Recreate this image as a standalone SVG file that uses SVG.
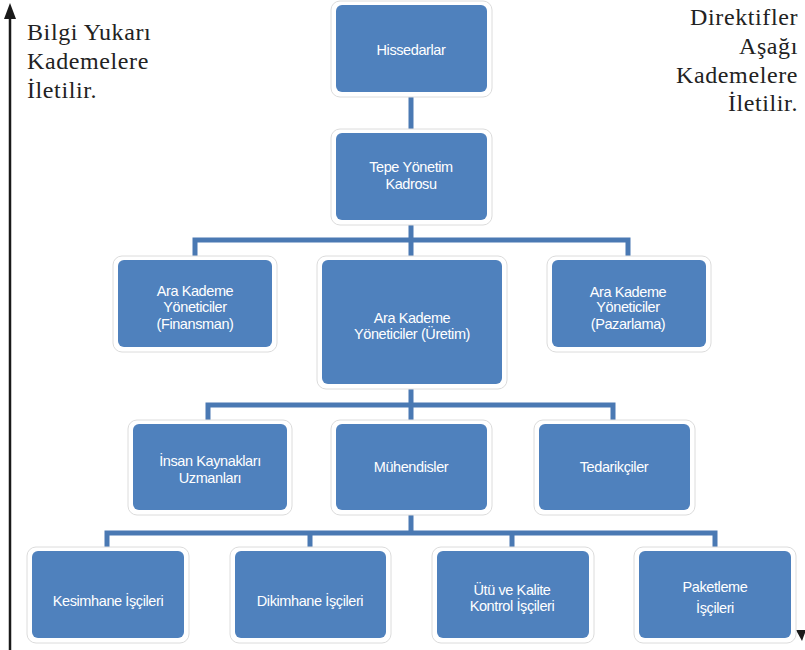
<svg xmlns="http://www.w3.org/2000/svg" width="805" height="650" viewBox="0 0 805 650">
  <style>
    .halo { fill: #ffffff; stroke: #dcdcdc; stroke-width: 1; }
    .box { fill: #4f81bd; }
    .lbl { font-family: "Liberation Sans", Arial, sans-serif; font-size: 14.5px; fill: #ffffff; text-anchor: middle; letter-spacing: -0.4px; }
    .note { font-family: "Liberation Serif", "Times New Roman", serif; font-size: 24px; fill: #222222; letter-spacing: 0.6px; }
    .conn { stroke: #4a79b3; stroke-width: 5; fill: none; }
  </style>

  <rect width="805" height="650" fill="#ffffff"/>

  <!-- side annotations -->
  <g id="info-up">
    <line x1="10" y1="650" x2="10" y2="17" stroke="#1a1a1a" stroke-width="2.5"/>
    <path d="M4,19 L10,3 L16,19 Z" fill="#1a1a1a"/>
    <text class="note" x="27" y="40">Bilgi Yukarı</text>
    <text class="note" x="27" y="69">Kademelere</text>
    <text class="note" x="27" y="98">İletilir.</text>
  </g>
  <g id="directives-down">
    <text class="note" x="798" y="25" text-anchor="end">Direktifler</text>
    <text class="note" x="798" y="54" text-anchor="end">Aşağı</text>
    <text class="note" x="798" y="83" text-anchor="end">Kademelere</text>
    <text class="note" x="798" y="111" text-anchor="end">İletilir.</text>
    <path d="M796,630 L806,630 L802,641 Z" fill="#1a1a1a"/>
  </g>

  <!-- connectors -->
  <g id="connectors">
    <path class="conn" d="M411,92 V133"/>
    <path class="conn" d="M411,220 V260 M195,260 V240 H628 V260"/>
    <path class="conn" d="M411,384 V424 M208,424 V405 H613 V424"/>
    <path class="conn" d="M411,510 V533 M107,551 V533 H715 V551 M310,533 V551 M512,533 V551"/>
  </g>

  <!-- level 1 -->
  <g id="hissedarlar">
    <rect class="halo" x="331" y="1" width="161" height="96" rx="9"/>
    <rect class="box" x="336" y="5" width="151" height="87" rx="6"/>
    <text class="lbl" x="411" y="55">Hissedarlar</text>
  </g>

  <!-- level 2 -->
  <g id="tepe-yonetim">
    <rect class="halo" x="331" y="129" width="161" height="96" rx="9"/>
    <rect class="box" x="336" y="133" width="151" height="87" rx="6"/>
    <text class="lbl" x="411" y="172">Tepe Yönetim</text>
    <text class="lbl" x="411" y="189">Kadrosu</text>
  </g>

  <!-- level 3 -->
  <g id="ara-kademe-finansman">
    <rect class="halo" x="113" y="256" width="164" height="96" rx="9"/>
    <rect class="box" x="118" y="260" width="154" height="87" rx="6"/>
    <text class="lbl" x="195" y="296">Ara Kademe</text>
    <text class="lbl" x="195" y="312">Yöneticiler</text>
    <text class="lbl" x="195" y="329">(Finansman)</text>
  </g>
  <g id="ara-kademe-uretim">
    <rect class="halo" x="317" y="256" width="190" height="133" rx="9"/>
    <rect class="box" x="322" y="260" width="180" height="124" rx="6"/>
    <text class="lbl" x="412" y="323">Ara Kademe</text>
    <text class="lbl" x="412" y="339">Yöneticiler (Üretim)</text>
  </g>
  <g id="ara-kademe-pazarlama">
    <rect class="halo" x="547" y="256" width="164" height="96" rx="9"/>
    <rect class="box" x="552" y="260" width="154" height="87" rx="6"/>
    <text class="lbl" x="628" y="297">Ara Kademe</text>
    <text class="lbl" x="628" y="312">Yöneticiler</text>
    <text class="lbl" x="628" y="329">(Pazarlama)</text>
  </g>

  <!-- level 4 -->
  <g id="insan-kaynaklari">
    <rect class="halo" x="128" y="420" width="164" height="95" rx="9"/>
    <rect class="box" x="133" y="424" width="154" height="86" rx="6"/>
    <text class="lbl" x="210" y="466">İnsan Kaynakları</text>
    <text class="lbl" x="210" y="483">Uzmanları</text>
  </g>
  <g id="muhendisler">
    <rect class="halo" x="331" y="420" width="161" height="95" rx="9"/>
    <rect class="box" x="336" y="424" width="151" height="86" rx="6"/>
    <text class="lbl" x="411" y="472">Mühendisler</text>
  </g>
  <g id="tedarikciler">
    <rect class="halo" x="534" y="420" width="161" height="95" rx="9"/>
    <rect class="box" x="539" y="424" width="151" height="86" rx="6"/>
    <text class="lbl" x="614" y="472">Tedarikçiler</text>
  </g>

  <!-- level 5 -->
  <g id="kesimhane">
    <rect class="halo" x="27" y="547" width="162" height="96" rx="9"/>
    <rect class="box" x="32" y="551" width="152" height="87" rx="6"/>
    <text class="lbl" x="108" y="606">Kesimhane İşçileri</text>
  </g>
  <g id="dikimhane">
    <rect class="halo" x="230" y="547" width="161" height="96" rx="9"/>
    <rect class="box" x="235" y="551" width="151" height="87" rx="6"/>
    <text class="lbl" x="310" y="606">Dikimhane İşçileri</text>
  </g>
  <g id="utu-kalite">
    <rect class="halo" x="432" y="547" width="162" height="96" rx="9"/>
    <rect class="box" x="437" y="551" width="152" height="87" rx="6"/>
    <text class="lbl" x="512" y="595">Ütü ve Kalite</text>
    <text class="lbl" x="512" y="611">Kontrol İşçileri</text>
  </g>
  <g id="paketleme">
    <rect class="halo" x="634" y="547" width="162" height="96" rx="9"/>
    <rect class="box" x="639" y="551" width="152" height="87" rx="6"/>
    <text class="lbl" x="715" y="592">Paketleme</text>
    <text class="lbl" x="715" y="613">İşçileri</text>
  </g>
</svg>
